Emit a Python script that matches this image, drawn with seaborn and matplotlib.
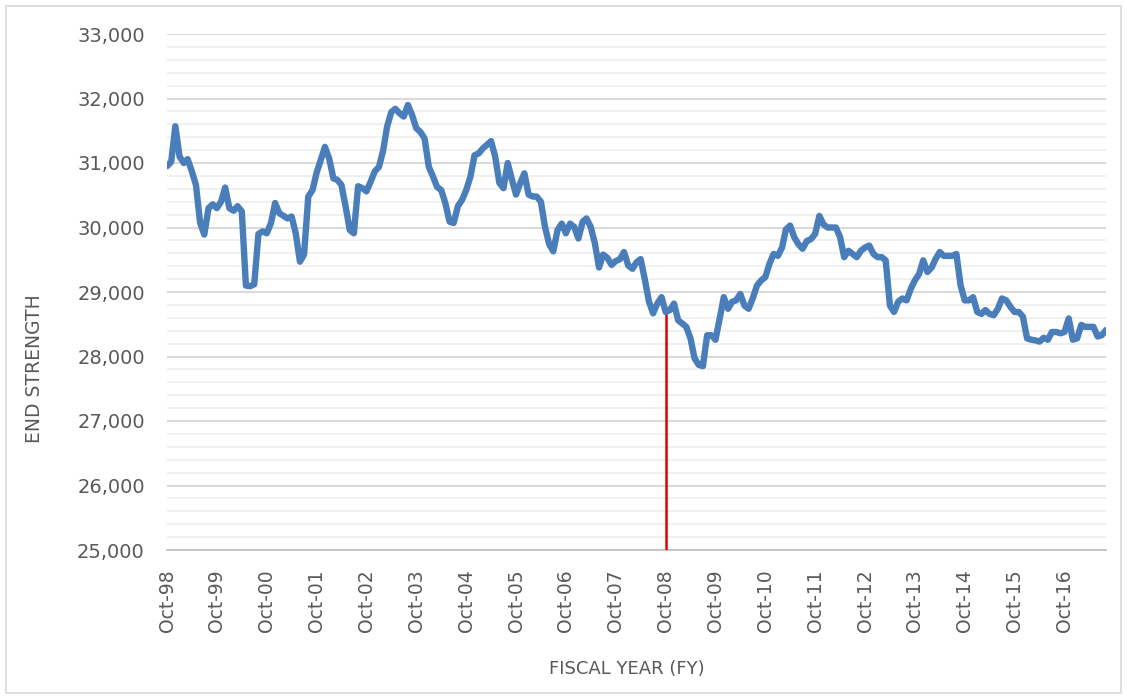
import pandas as pd
import matplotlib
matplotlib.use("Agg")
import matplotlib.pyplot as plt
import matplotlib.dates as mdates
from matplotlib.ticker import MultipleLocator, FuncFormatter
from matplotlib.patches import Rectangle
import seaborn as sns

# monthly end strength, Oct-98 through Aug-17
start_month = "1998-10-01"
end_strength = [
    30950, 31020, 31570, 31100, 31000, 31060, 30870, 30660, 30070, 29890, 30300, 30360,
    30300, 30400, 30620, 30300, 30260, 30330, 30250, 29100, 29090, 29120, 29900, 29940,
    29910, 30070, 30380, 30220, 30180, 30140, 30170, 29910, 29470, 29580, 30480, 30580,
    30850, 31050, 31250, 31070, 30760, 30740, 30660, 30330, 29960, 29910, 30640, 30610,
    30560, 30710, 30870, 30940, 31200, 31560, 31790, 31840, 31770, 31720, 31900, 31740,
    31540, 31480, 31380, 30940, 30790, 30630, 30580, 30380, 30090, 30070, 30330, 30430,
    30580, 30790, 31120, 31150, 31230, 31280, 31340, 31100, 30690, 30610, 31000, 30740,
    30510, 30690, 30840, 30510, 30480, 30480, 30400, 30010, 29740, 29630, 29960, 30060,
    29910, 30060, 30010, 29830, 30090, 30140, 30010, 29760, 29380, 29580, 29530, 29420,
    29480, 29510, 29620, 29410, 29360, 29460, 29510, 29200, 28850, 28670, 28820, 28920,
    28690, 28720, 28820, 28560, 28510, 28460, 28280, 27970, 27870, 27850, 28330, 28330,
    28260, 28590, 28920, 28740, 28850, 28870, 28970, 28790, 28740, 28900, 29100, 29180,
    29230, 29440, 29590, 29560, 29690, 29970, 30030, 29850, 29740, 29670, 29790, 29820,
    29900, 30180, 30050, 30000, 30000, 30000, 29850, 29540, 29640, 29590, 29540, 29640,
    29690, 29720, 29590, 29540, 29540, 29490, 28790, 28690, 28850, 28900, 28870, 29050,
    29180, 29280, 29490, 29310, 29380, 29510, 29620, 29560, 29560, 29560, 29590, 29100,
    28870, 28870, 28920, 28690, 28660, 28720, 28660, 28640, 28740, 28900, 28870, 28770,
    28690, 28690, 28620, 28280, 28260, 28250, 28230, 28290, 28260, 28380, 28380, 28360,
    28380, 28590, 28260, 28280, 28490, 28460, 28460, 28460, 28310, 28330, 28410,
]
marker_month = "2008-10-01"  # red reference line

months = pd.date_range(start_month, periods=len(end_strength), freq="MS")
df = pd.DataFrame({"month": months, "end_strength": end_strength})

sns.set_style("white")
plt.rcParams["font.family"] = ["DejaVu Sans"]
text_color = "#595959"

fig = plt.figure(figsize=(11.27, 6.98), dpi=100)
ax = fig.add_axes([167 / 1127, 1 - 550 / 698, (1106 - 167) / 1127, (550 - 34) / 698])

# gridlines
ax.yaxis.set_major_locator(MultipleLocator(1000))
ax.yaxis.set_minor_locator(MultipleLocator(200))
ax.grid(axis="y", which="major", color="#d9d9d9", lw=1.4, zorder=0)
ax.grid(axis="y", which="minor", color="#ececec", lw=1.1, zorder=0)
ax.set_axisbelow(True)

sns.lineplot(data=df, x="month", y="end_strength", ax=ax, color="#4a7ebb",
             lw=4.6, solid_joinstyle="round", solid_capstyle="round", zorder=3)

# red vertical marker at Oct-08
mdate = pd.Timestamp(marker_month)
mval = df.loc[df["month"] == mdate, "end_strength"].iloc[0]
ax.vlines(mdate, 25000, mval, color="#e00000", lw=1.8, zorder=2)

ax.set_ylim(25000, 33000)
ax.set_xlim(months[0], months[-1])
ax.yaxis.set_major_formatter(FuncFormatter(lambda v, p: f"{int(v):,}"))
ax.xaxis.set_major_locator(mdates.MonthLocator(bymonth=10))
ax.xaxis.set_major_formatter(mdates.DateFormatter("%b-%y"))

for s in ["top", "right", "left"]:
    ax.spines[s].set_visible(False)
ax.spines["bottom"].set_color("#bfbfbf")
ax.spines["bottom"].set_linewidth(1.2)
ax.spines["bottom"].set_zorder(1)

ax.tick_params(axis="y", which="both", length=0, pad=16, labelsize=14, labelcolor=text_color)
ax.tick_params(axis="x", which="major", length=6, width=1.2, color="#bfbfbf", pad=8,
               labelsize=13.5, labelcolor=text_color, labelrotation=90)
ax.set_xlabel("")
ax.set_ylabel("")

fig.text(35 / 1127, 1 - 369 / 698, "END STRENGTH", rotation=90, ha="center", va="center",
         fontsize=13.5, color=text_color)
fig.text(627 / 1127, 1 - 669 / 698, "FISCAL YEAR (FY)", ha="center", va="center",
         fontsize=13, color=text_color)

# light chart border
fig.patches.append(Rectangle((6 / 1127, 5 / 698), 1115 / 1127, 687 / 698, transform=fig.transFigure,
                             fill=False, edgecolor="#d9d9d9", lw=1.2))

fig.savefig("out.png", dpi=100)
